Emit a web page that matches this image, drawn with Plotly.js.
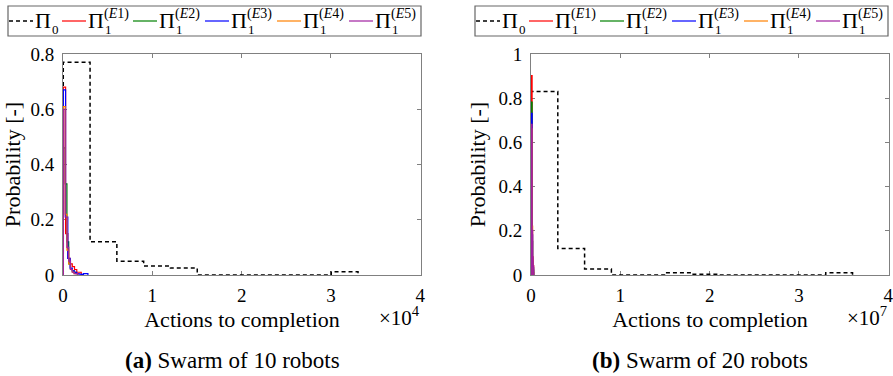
<!DOCTYPE html>
<html><head><meta charset="utf-8">
<script src="https://cdn.plot.ly/plotly-3.0.1.min.js"></script>
<style>html,body{margin:0;padding:0;background:#fff}</style>
</head><body>
<div id="chart" style="width:893px;height:376px"></div>
<script>
// ---------- data ----------
const seriesNames = ['Π0', 'Π1(E1)', 'Π1(E2)', 'Π1(E3)', 'Π1(E4)', 'Π1(E5)'];
const legendSub = ['0', '1', '1', '1', '1', '1'];
const legendSup = ['', '(<i>E</i>1)', '(<i>E</i>2)', '(<i>E</i>3)', '(<i>E</i>4)', '(<i>E</i>5)'];
const xTickVals10 = [0, 10000, 20000, 30000, 40000];
const xTickVals20 = [0, 1e7, 2e7, 3e7, 4e7];
const xTickText = ['0', '1', '2', '3', '4'];

// (a) swarm of 10 robots: bin start, bin width, probabilities per bin
const binStartA = [30, 40, 40, 40, 40, 40];
const binWidthA = [3000, 250, 200, 250, 200, 200];
const pi0A = [0.77, 0.12, 0.05, 0.033, 0.025, 0, 0, 0, 0, 0, 0.012];
const e1A = [0.68, 0.15, 0.06, 0.04, 0.03, 0.02, 0.01, 0.01];
const e2A = [0.46, 0.33, 0.12, 0.04, 0.02, 0.015, 0.01, 0.005];
const e3A = [0.67, 0.21, 0.06, 0.025, 0.015, 0.01, 0.005, 0.003, 0.002, 0.005, 0.005];
const e4A = [0.61, 0.22, 0.09, 0.04, 0.02, 0.01, 0.005, 0.005];
const e5A = [0.60, 0.21, 0.10, 0.05, 0.02, 0.01, 0.005, 0.005];

// (b) swarm of 20 robots
const binStartB = [0, 20000, 20000, 20000, 20000, 20000];
const binWidthB = [3e6, 60000, 60000, 60000, 60000, 60000];
const pi0B = [0.83, 0.12, 0.027, 0, 0, 0.01, 0.003, 0, 0, 0, 0, 0.01];
const e1B = [0.90, 0.07, 0.02, 0.01];
const e2B = [0.78, 0.15, 0.05, 0.02];
const e3B = [0.73, 0.18, 0.06, 0.03];
const e4B = [0.66, 0.22, 0.08, 0.04];
const e5B = [0.68, 0.20, 0.08, 0.04];

// ---------- styling ----------
const colors = ['#000000', '#ff0000', '#008000', '#0000ff', '#ff8000', '#a020a0'];
const W = 893, H = 376;
const px = v => v / W, py = v => 1 - v / H;
const FONT = 'Liberation Serif';
const AXC = '#808080';

function stairs(start, width, vals) {
  const xs = [start], ys = [0];
  vals.forEach((v, i) => { xs.push(start + i * width); ys.push(v); });
  xs.push(start + vals.length * width); ys.push(0);
  return {x: xs, y: ys};
}

const dataA = [pi0A, e1A, e2A, e3A, e4A, e5A];
const dataB = [pi0B, e1B, e2B, e3B, e4B, e5B];
const traces = [];
dataA.forEach((vals, i) => {
  const s = stairs(binStartA[i], binWidthA[i], vals);
  traces.push({x: s.x, y: s.y, type: 'scatter', mode: 'lines', name: seriesNames[i],
    line: {shape: 'hv', color: colors[i], width: i === 0 ? 1.5 : 1.2, dash: i === 0 ? '4px,3px' : 'solid'},
    xaxis: 'x', yaxis: 'y', showlegend: false, hoverinfo: 'skip'});
});
dataB.forEach((vals, i) => {
  const s = stairs(binStartB[i], binWidthB[i], vals);
  traces.push({x: s.x, y: s.y, type: 'scatter', mode: 'lines', name: seriesNames[i],
    line: {shape: 'hv', color: colors[i], width: i === 0 ? 1.5 : 2, dash: i === 0 ? '4px,3px' : 'solid'},
    xaxis: 'x2', yaxis: 'y2', showlegend: false, hoverinfo: 'skip'});
});

function xAxis(dom, vals, anchor) {
  return {domain: dom, range: [0, vals[4] * 1.002], tickmode: 'array', tickvals: vals, ticktext: xTickText,
    ticks: 'inside', ticklen: 4, tickcolor: AXC, showline: true, linecolor: AXC, linewidth: 1,
    mirror: 'ticks', showgrid: false, zeroline: false, layer: 'below traces', anchor: anchor,
    tickfont: {family: FONT, size: 19, color: '#000'}, ticklabelstandoff: 3, ticklabeloverflow: 'allow',
    title: {text: 'Actions to completion', font: {family: FONT, size: 22, color: '#000'}, standoff: 6},
    fixedrange: true};
}
function yAxis(dom, top, dtick, anchor) {
  return {domain: dom, range: [0, top], dtick: dtick, tick0: 0,
    ticks: 'inside', ticklen: 4, tickcolor: AXC, showline: true, linecolor: AXC, linewidth: 1,
    mirror: 'ticks', showgrid: false, zeroline: false, layer: 'below traces', anchor: anchor,
    tickfont: {family: FONT, size: 19, color: '#000'}, ticklabelstandoff: 4, ticklabeloverflow: 'allow',
    title: {text: 'Probability [-]', font: {family: FONT, size: 22, color: '#000'}, standoff: 6},
    fixedrange: true};
}

const yDom = [py(275), py(54)];
const layout = {
  width: W, height: H, margin: {l: 0, r: 0, t: 0, b: 0},
  paper_bgcolor: '#fff', plot_bgcolor: '#fff', showlegend: false,
  font: {family: FONT, color: '#000'},
  xaxis: xAxis([px(63), px(421)], xTickVals10, 'y'),
  yaxis: yAxis(yDom, 0.8, 0.2, 'x'),
  xaxis2: xAxis([px(531), px(889)], xTickVals20, 'y2'),
  yaxis2: yAxis(yDom, 1, 0.2, 'x2'),
  shapes: [], annotations: []
};

// exponent labels and captions
[[399, '×10<sup>4</sup>'], [867, '×10<sup>7</sup>']].forEach(([cx, t]) => {
  layout.annotations.push({xref: 'paper', yref: 'paper', x: px(cx), y: py(316), text: t,
    showarrow: false, xanchor: 'center', yanchor: 'middle', font: {family: FONT, size: 21, color: '#000'}});
});
[[232, '<b>(a)</b> Swarm of 10 robots'], [700, '<b>(b)</b> Swarm of 20 robots']].forEach(([cx, t]) => {
  layout.annotations.push({xref: 'paper', yref: 'paper', x: px(cx), y: py(360), text: t,
    showarrow: false, xanchor: 'center', yanchor: 'middle', font: {family: FONT, size: 23, color: '#000'}});
});

// hand-made legends (one above each panel)
const legendOffsets = [0, 467];
const itemStarts = [9, 62, 133, 205, 277, 349];
legendOffsets.forEach(off => {
  layout.shapes.push({type: 'rect', xref: 'paper', yref: 'paper', x0: px(8 + off), x1: px(421 + off),
    y0: py(36), y1: py(6), line: {color: '#666', width: 1.2}, fillcolor: 'rgba(0,0,0,0)'});
  itemStarts.forEach((s, i) => {
    const x0 = s + off;
    layout.shapes.push({type: 'line', xref: 'paper', yref: 'paper', x0: px(x0), x1: px(x0 + 24),
      y0: py(21), y1: py(21), line: {color: colors[i], width: i === 0 ? 1.5 : 1.2, dash: i === 0 ? '4px,3px' : 'solid'}});
    layout.annotations.push({xref: 'paper', yref: 'paper', x: px(x0 + 24), y: py(21), text: 'Π',
      showarrow: false, xanchor: 'left', yanchor: 'middle', font: {family: FONT, size: 22, color: '#000'}});
    layout.annotations.push({xref: 'paper', yref: 'paper', x: px(x0 + 41), y: py(29), text: legendSub[i],
      showarrow: false, xanchor: 'left', yanchor: 'middle', font: {family: FONT, size: 13, color: '#000'}});
    if (legendSup[i]) {
      layout.annotations.push({xref: 'paper', yref: 'paper', x: px(x0 + 40), y: py(14), text: legendSup[i],
        showarrow: false, xanchor: 'left', yanchor: 'middle', font: {family: FONT, size: 14, color: '#000'}});
    }
  });
});

Plotly.newPlot('chart', traces, layout, {staticPlot: true, displayModeBar: false});
</script>
</body></html>
